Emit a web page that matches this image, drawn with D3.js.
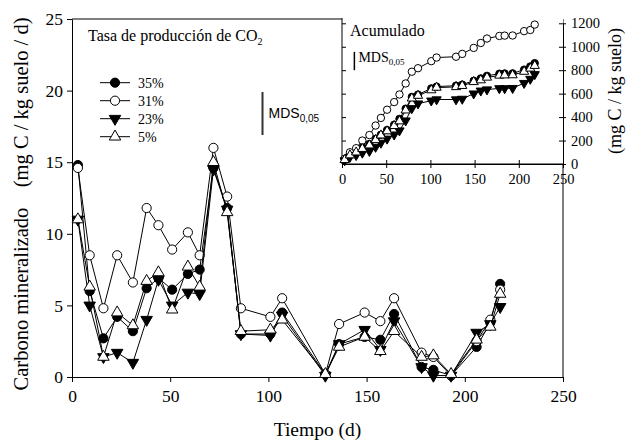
<!DOCTYPE html>
<html>
<head>
<meta charset="utf-8">
<script src="https://cdn.jsdelivr.net/npm/d3@7"></script>
<style>
  body { margin: 0; background: #fff; }
  svg text { font-family: "Liberation Serif", "Times New Roman", serif; fill: #000; }
</style>
</head>
<body>
<div id="chart"></div>
<script>
// sampling days (d)
const days = [3, 9, 16, 23, 31, 38, 44, 51, 59, 65, 72, 79, 86, 101, 107, 129, 136, 149, 157, 164, 178, 184, 193, 206, 213, 218];

// rate of CO2 production (mg C / kg suelo / d)
const rate35 = [14.8, 6.0, 2.7, 4.2, 3.2, 6.2, 6.9, 6.1, 7.2, 7.5, 14.6, 11.8, 3.0, 3.0, 4.5, 0.2, 2.3, 2.8, 2.6, 4.4, 0.7, 0.5, 0.1, 2.1, 3.8, 6.5];
const rate31 = [14.6, 8.5, 4.8, 8.5, 6.6, 11.8, 10.6, 8.9, 10.1, 8.5, 16.0, 12.6, 4.8, 4.2, 5.5, 0.2, 3.7, 4.5, 3.9, 5.5, 1.7, 1.4, 0.1, 2.5, 4.0, 6.1];
const rate23 = [11.0, 5.0, 1.4, 1.7, 1.0, 4.0, 6.8, 5.0, 5.9, 5.8, 14.5, 11.7, 3.0, 2.9, 4.3, 0.1, 2.3, 3.3, 1.9, 3.9, 0.7, 0.1, 0.1, 3.1, 3.7, 4.9];
const rate5 = [11.0, 6.3, 1.4, 4.5, 3.6, 6.7, 7.3, 4.7, 7.7, 6.3, 15.0, 11.5, 3.2, 3.3, 4.0, 0.2, 2.1, 2.8, 1.8, 3.2, 1.4, 1.5, 0.2, 2.6, 3.5, 5.8];

// accumulated (mg C / kg suelo)
const cum35 = [40, 82, 110, 140, 170, 215, 250, 290, 335, 385, 472, 572, 592, 645, 660, 668, 677, 710, 730, 752, 770, 772, 773, 805, 832, 860];
const cum31 = [45, 100, 135, 200, 247, 328, 393, 463, 528, 593, 687, 787, 817, 877, 908, 915, 939, 990, 1032, 1070, 1092, 1095, 1096, 1133, 1143, 1189];
const cum23 = [30, 60, 75, 95, 110, 145, 180, 215, 250, 285, 370, 475, 515, 540, 550, 550, 555, 600, 625, 635, 645, 645, 647, 690, 725, 765];
const cum5 = [35, 75, 100, 130, 160, 205, 245, 280, 325, 365, 458, 560, 583, 630, 652, 657, 667, 700, 715, 738, 755, 757, 758, 788, 815, 838];

const seriesLabels = ['35%', '31%', '23%', '5%'];
const seriesShapes = ['dot', 'circle', 'down', 'up'];
const xTicks = [0, 50, 100, 150, 200, 250];
const yTicks = [0, 5, 10, 15, 20, 25];
const insetYTicks = [0, 200, 400, 600, 800, 1000, 1200];

// least significant difference bars: [day, low, high]
const mdsMain = [97, 16.9, 19.9];
const mdsInset = [14, 800, 956];

const width = 627, height = 444;

const svg = d3.select('#chart').append('svg')
  .attr('width', width)
  .attr('height', height);

const x = d3.scaleLinear().domain([0, 250]).range([72, 563]);
const y = d3.scaleLinear().domain([0, 25]).range([377, 19]);

const ix = d3.scaleLinear().domain([0, 250]).range([342, 563]);
const iy = d3.scaleLinear().domain([0, 1200]).range([164, 23.3]);

function drawMarker(sel, shape, r) {
  if (shape === 'dot' || shape === 'circle') {
    sel.append('circle')
      .attr('r', r)
      .attr('fill', shape === 'dot' ? '#000' : '#fff')
      .attr('stroke', '#000')
      .attr('stroke-width', 1);
  } else {
    const size = r * r * 2.7;
    sel.append('path')
      .attr('d', d3.symbol(d3.symbolTriangle, size)())
      .attr('transform', shape === 'down' ? 'rotate(180)' : null)
      .attr('fill', shape === 'down' ? '#000' : '#fff')
      .attr('stroke', '#000')
      .attr('stroke-width', 1);
  }
}

function drawSeries(g, sx, sy, values, shape, r) {
  const pts = days.map((d, i) => [d, values[i]]);
  g.append('path')
    .datum(pts)
    .attr('fill', 'none')
    .attr('stroke', '#000')
    .attr('stroke-width', 1)
    .attr('d', d3.line().x(d => sx(d[0])).y(d => sy(d[1])));
  g.selectAll(null)
    .data(pts)
    .join('g')
    .attr('transform', d => `translate(${sx(d[0])},${sy(d[1])})`)
    .each(function () { drawMarker(d3.select(this), shape, r); });
}

function styleAxis(a, size) {
  a.attr('font-family', null).attr('font-size', null);
  a.selectAll('text').style('font-size', size).attr('fill', '#000');
  a.selectAll('line').attr('stroke', '#000');
  a.select('.domain').attr('stroke', '#000');
}

// ---- main chart ----
const main = svg.append('g');

// frame
main.append('path')
  .attr('d', `M${x(0)},${y(25)}H${x(250)}V${y(0)}`)
  .attr('fill', 'none')
  .attr('stroke', '#000')
  .attr('stroke-width', 1);

const axisY = main.append('g')
  .attr('transform', `translate(${x(0)},0)`)
  .call(d3.axisLeft(y).tickValues(yTicks).tickSize(5).tickSizeOuter(0).tickPadding(4));
const axisX = main.append('g')
  .attr('transform', `translate(0,${y(0)})`)
  .call(d3.axisBottom(x).tickValues(xTicks).tickSize(5).tickSizeOuter(0).tickPadding(8));
styleAxis(axisY, '17.5px');
styleAxis(axisX, '17.5px');

[rate35, rate31, rate23, rate5].forEach((vals, i) => {
  drawSeries(main.append('g'), x, y, vals, seriesShapes[i], 4.6);
});

// title
const title = main.append('text')
  .attr('x', 88)
  .attr('y', 41)
  .style('font-size', '16px')
  .text('Tasa de producción de CO');
title.append('tspan').attr('dy', 4).style('font-size', '10px').text('2');

// legend
const legend = main.append('g');
seriesLabels.forEach((lab, i) => {
  const ly = 82.7 + i * 18;
  const row = legend.append('g').attr('transform', `translate(0,${ly})`);
  row.append('line').attr('x1', 100).attr('x2', 130).attr('stroke', '#000');
  drawMarker(row.append('g').attr('transform', 'translate(115,0)'), seriesShapes[i], 4.6);
  row.append('text').attr('x', 138).attr('y', 5).style('font-size', '14px').text(lab);
});

// MDS bar (main)
main.append('line')
  .attr('x1', x(mdsMain[0])).attr('x2', x(mdsMain[0]))
  .attr('y1', y(mdsMain[1])).attr('y2', y(mdsMain[2]))
  .attr('stroke', '#333').attr('stroke-width', 2);
const mdsT = main.append('text')
  .attr('x', x(mdsMain[0]) + 6)
  .attr('y', 118)
  .style('font-family', '"Liberation Sans", Arial, sans-serif')
  .style('font-size', '14px')
  .text('MDS');
mdsT.append('tspan').attr('dy', 4).style('font-size', '10px').text('0,05');

// axis titles
main.append('text')
  .attr('transform', `translate(28,204) rotate(-90)`)
  .attr('text-anchor', 'middle')
  .style('font-size', '20.5px')
  .style('white-space', 'pre')
  .attr('xml:space', 'preserve')
  .text('Carbono mineralizado    (mg C / kg suelo / d)');
main.append('text')
  .attr('x', (x(0) + x(250)) / 2)
  .attr('y', 436)
  .attr('text-anchor', 'middle')
  .style('font-size', '19.5px')
  .text('Tiempo (d)');

// ---- inset ----
const inset = svg.append('g');
inset.append('rect')
  .attr('x', ix(0)).attr('y', 18)
  .attr('width', ix(250) - ix(0)).attr('height', iy(0) - 18)
  .attr('fill', '#fff');
inset.append('path')
  .attr('d', `M${ix(0)},18V${iy(0)}H${ix(250)}`)
  .attr('fill', 'none').attr('stroke', '#000');

const iAxisX = inset.append('g')
  .attr('transform', `translate(0,${iy(0)})`)
  .call(d3.axisBottom(ix).tickValues(xTicks).tickSize(4).tickSizeOuter(0).tickPadding(6).tickFormat(d3.format('d')));
iAxisX.selectAll('.tick line').attr('y1', -4);
const iAxisR = inset.append('g')
  .attr('transform', `translate(${ix(250)},0)`)
  .call(d3.axisRight(iy).tickValues(insetYTicks).tickSize(3).tickSizeOuter(0).tickPadding(5).tickFormat(d3.format('d')));
iAxisR.selectAll('.tick line').attr('x1', -4);
const iAxisL = inset.append('g')
  .attr('transform', `translate(${ix(0)},0)`)
  .call(d3.axisRight(iy).tickValues(insetYTicks.slice(1)).tickSize(4).tickSizeOuter(0).tickFormat(''));
iAxisL.select('.domain').remove();
styleAxis(iAxisX, '14.5px');
styleAxis(iAxisR, '14.5px');
styleAxis(iAxisL, '14.5px');

[cum35, cum31, cum23, cum5].forEach((vals, i) => {
  drawSeries(inset.append('g'), ix, iy, vals, seriesShapes[i], 3.7);
});

inset.append('text')
  .attr('x', 350).attr('y', 36)
  .style('font-size', '16px')
  .text('Acumulado');

inset.append('line')
  .attr('x1', ix(mdsInset[0])).attr('x2', ix(mdsInset[0]))
  .attr('y1', iy(mdsInset[1])).attr('y2', iy(mdsInset[2]))
  .attr('stroke', '#000').attr('stroke-width', 1.5);
const mdsI = inset.append('text')
  .attr('x', ix(mdsInset[0]) + 4)
  .attr('y', 62)
  .style('font-size', '14px')
  .text('MDS');
mdsI.append('tspan').attr('dy', 3).style('font-size', '9px').text('0,05');

inset.append('text')
  .attr('transform', `translate(621,${(iy(0) + 18) / 2}) rotate(-90)`)
  .attr('text-anchor', 'middle')
  .style('font-size', '18px')
  .text('(mg C / kg suelo)');
</script>
</body>
</html>
